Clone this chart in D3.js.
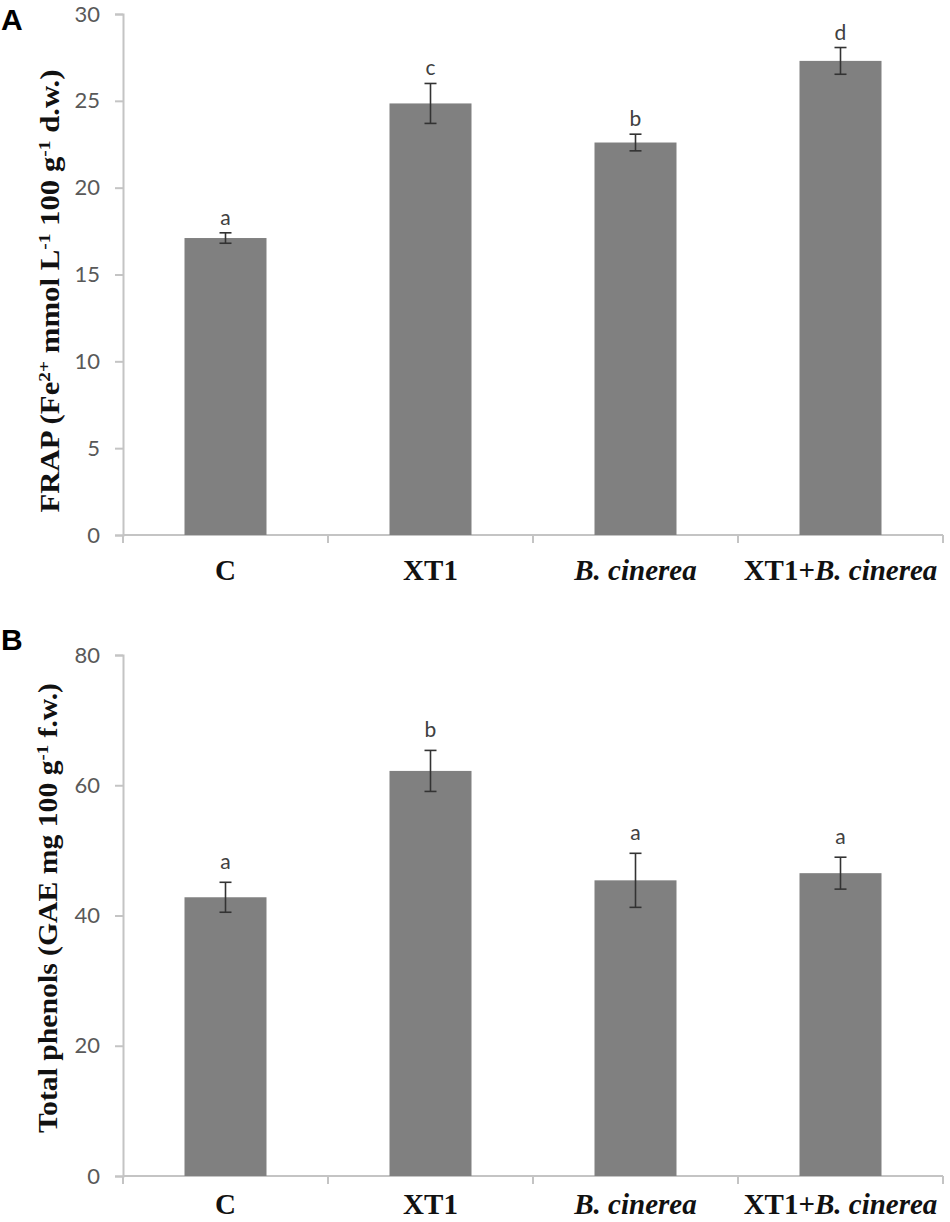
<!DOCTYPE html>
<html>
<head>
<meta charset="utf-8">
<script src="https://cdn.jsdelivr.net/npm/d3@7"></script>
<style>
  body { margin: 0; background: #fff; }
  svg { display: block; }
</style>
</head>
<body>
<div id="chart"></div>
<script>
//////////////////////////////////////////////////////////////////////////////
// Data

var treatments = ["C", "XT1", "B. cinerea", "XT1+B. cinerea"];

var frapValues = [17.1, 24.85, 22.6, 27.3];
var frapErrors = [0.3, 1.15, 0.48, 0.77];
var frapLetters = ["a", "c", "b", "d"];
var frapTicks = [0, 5, 10, 15, 20, 25, 30];

var phenolValues = [42.8, 62.2, 45.4, 46.5];
var phenolErrors = [2.3, 3.15, 4.15, 2.45];
var phenolLetters = ["a", "b", "a", "a"];
var phenolTicks = [0, 20, 40, 60, 80];

//////////////////////////////////////////////////////////////////////////////
// Preliminaries

var width = 950, height = 1222;

var svg = d3.select("#chart").append("svg")
    .attr("width", width)
    .attr("height", height);

var xScale = d3.scaleBand().domain(treatments).range([123, 943]);
var barWidth = 82;

// italic part of the treatment names
function writeTreatment(sel, name) {
    var i = name.indexOf("B. cinerea");
    if (i > 0) sel.append("tspan").text(name.slice(0, i));
    if (i >= 0) sel.append("tspan").attr("font-style", "italic").text("B. cinerea");
    else sel.text(name);
}

function createPanel(opt) {
    var yScale = d3.scaleLinear().domain([0, opt.max]).range([opt.bottom, opt.top]);
    var g = svg.append("g");

    // y axis
    var yAxis = d3.axisLeft(yScale).tickValues(opt.ticks).tickSize(8).tickPadding(15);
    var ya = g.append("g")
        .attr("transform", "translate(" + xScale.range()[0] + ",0)")
        .call(yAxis);
    ya.select(".domain").attr("stroke", "#c4c4c4").attr("stroke-width", 2);
    ya.selectAll(".tick line").attr("stroke", "#c4c4c4").attr("stroke-width", 2);
    ya.selectAll(".tick text")
        .attr("fill", "#595959")
        .attr("font-family", "Lato, 'Open Sans', sans-serif")
        .attr("font-size", 22);

    // x axis, ticks between categories
    var edges = treatments.map(function(t) { return xScale(t); }).concat([xScale.range()[1]]);
    g.append("line")
        .attr("x1", xScale.range()[0]).attr("x2", xScale.range()[1])
        .attr("y1", yScale(0)).attr("y2", yScale(0))
        .attr("stroke", "#c4c4c4").attr("stroke-width", 2);
    g.selectAll(".xtick").data(edges).enter().append("line")
        .attr("x1", function(d) { return d; }).attr("x2", function(d) { return d; })
        .attr("y1", yScale(0)).attr("y2", yScale(0) + 8)
        .attr("stroke", "#c4c4c4").attr("stroke-width", 2);

    g.selectAll(".xlabel").data(treatments).enter().append("text")
        .attr("x", function(d) { return xScale(d) + xScale.bandwidth() / 2; })
        .attr("y", yScale(0) + opt.labelGap)
        .attr("text-anchor", "middle")
        .attr("font-family", "'Liberation Serif', 'Times New Roman', serif")
        .attr("font-weight", "bold")
        .attr("font-size", 29)
        .attr("fill", "#111")
        .each(function(d) { writeTreatment(d3.select(this), d); });

    // bars
    var cx = function(d, i) { return xScale(treatments[i]) + xScale.bandwidth() / 2; };
    g.selectAll(".bar").data(opt.values).enter().append("rect")
        .attr("x", function(d, i) { return cx(d, i) - barWidth / 2; })
        .attr("y", function(d) { return yScale(d); })
        .attr("width", barWidth)
        .attr("height", function(d) { return yScale(0) - yScale(d); })
        .attr("fill", "#808080");

    // error bars
    var eb = g.selectAll(".err").data(opt.values).enter().append("g")
        .attr("stroke", "#333")
        .attr("stroke-width", 1.6);
    eb.append("line")
        .attr("x1", cx).attr("x2", cx)
        .attr("y1", function(d, i) { return yScale(d + opt.errors[i]); })
        .attr("y2", function(d, i) { return yScale(d - opt.errors[i]); });
    eb.append("line")
        .attr("x1", function(d, i) { return cx(d, i) - 6; })
        .attr("x2", function(d, i) { return cx(d, i) + 6; })
        .attr("y1", function(d, i) { return yScale(d + opt.errors[i]); })
        .attr("y2", function(d, i) { return yScale(d + opt.errors[i]); });
    eb.append("line")
        .attr("x1", function(d, i) { return cx(d, i) - 6; })
        .attr("x2", function(d, i) { return cx(d, i) + 6; })
        .attr("y1", function(d, i) { return yScale(d - opt.errors[i]); })
        .attr("y2", function(d, i) { return yScale(d - opt.errors[i]); });

    // significance letters
    g.selectAll(".letter").data(opt.letters).enter().append("text")
        .attr("x", function(d, i) { return cx(d, i); })
        .attr("y", function(d, i) { return yScale(opt.values[i] + opt.errors[i]) - opt.letterGap; })
        .attr("text-anchor", "middle")
        .attr("font-family", "Lato, 'Open Sans', sans-serif")
        .attr("font-size", 21)
        .attr("fill", "#404040")
        .text(function(d) { return d; });

    // y axis title, stretched to the length it has in the figure
    var title = g.append("text")
        .attr("transform", "translate(" + opt.titleX + "," + opt.titleY + ") rotate(-90)")
        .attr("text-anchor", "middle")
        .attr("font-family", "'Liberation Serif', 'Times New Roman', serif")
        .attr("font-weight", "bold")
        .attr("font-size", 27)
        .attr("fill", "#111")
        .attr("textLength", opt.titleLength)
        .attr("lengthAdjust", "spacingAndGlyphs");
    opt.title.forEach(function(part) {
        var t = title.append("tspan").text(part[0]);
        if (part[1]) t.attr("font-size", 17).attr("baseline-shift", "super");
    });

    // panel letter
    svg.append("text")
        .attr("x", 1).attr("y", opt.letterY)
        .attr("font-family", "'Liberation Sans', Arial, sans-serif")
        .attr("font-weight", "bold")
        .attr("font-size", 30)
        .attr("fill", "#000")
        .text(opt.panel);
}

createPanel({
    panel: "A", letterY: 30,
    top: 14, bottom: 535, max: 30,
    ticks: frapTicks, values: frapValues, errors: frapErrors, letters: frapLetters,
    letterGap: 8, labelGap: 45,
    titleX: 59, titleY: 291, titleLength: 443,
    title: [["FRAP (Fe"], ["2+", true], [" mmol L"], ["-1", true], [" 100 g"], ["-1", true], [" d.w.)"]]
});

createPanel({
    panel: "B", letterY: 650,
    top: 655, bottom: 1176, max: 80,
    ticks: phenolTicks, values: phenolValues, errors: phenolErrors, letters: phenolLetters,
    letterGap: 13, labelGap: 38,
    titleX: 57, titleY: 908, titleLength: 450,
    title: [["Total phenols (GAE  mg 100 g"], ["-1", true], [" f.w.)"]]
});
</script>
</body>
</html>
